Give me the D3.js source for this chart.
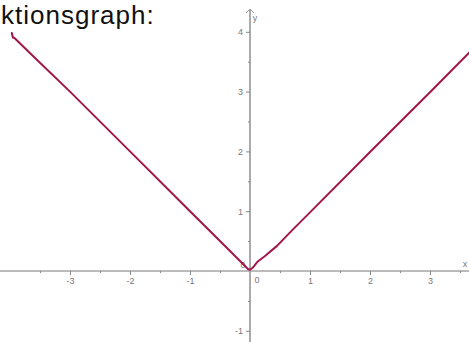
<!DOCTYPE html>
<html>
<head>
<meta charset="utf-8">
<script src="https://cdn.jsdelivr.net/npm/d3@7"></script>
<style>
  body { margin: 0; background: #fff; }
  svg { display: block; }
</style>
</head>
<body>
<svg width="469" height="342"></svg>
<script>
// points (x, y in axis units)
const curveX = [-3.97, -3.95, -3.93, -3.6, -3.0, -2.0, -1.0, -0.4, -0.1, -0.03, 0.0, 0.05, 0.12, 0.25, 0.45, 0.7, 1.0, 2.0, 3.0, 3.66];
const curveY = [3.98, 3.9, 3.9, 3.58, 3.0, 2.0, 1.0, 0.4, 0.1, 0.03, 0.02, 0.06, 0.15, 0.25, 0.42, 0.68, 0.98, 1.99, 2.99, 3.66];
const xTicks = [-3, -2, -1, 1, 2, 3];
const yTicks = [-1, 1, 2, 3, 4];
const xMinor = [-3.5, -2.5, -1.5, -0.5, 0.5, 1.5, 2.5, 3.5];
const yMinor = [-0.5, 0.5, 1.5, 2.5, 3.5];

const svg = d3.select("svg");
const W = 469, H = 342;

const x = d3.scaleLinear().domain([0, 1]).range([250, 310]);
const y = d3.scaleLinear().domain([0, 1]).range([271, 211.2]);

// title (only the visible part of it)
svg.append("text")
    .attr("x", 1)
    .attr("y", 24)
    .attr("font-family", "Liberation Sans, Arial, sans-serif")
    .attr("font-size", "26px")
    .attr("letter-spacing", "1px")
    .attr("fill", "#111")
    .text("ktionsgraph:");

// x axis line
svg.append("line")
    .attr("x1", 0).attr("x2", W)
    .attr("y1", y(0)).attr("y2", y(0))
    .attr("stroke", "#777").attr("stroke-width", 1);

// y axis line
svg.append("line")
    .attr("x1", x(0)).attr("x2", x(0))
    .attr("y1", 9).attr("y2", H)
    .attr("stroke", "#aaa").attr("stroke-width", 2);

// arrow on y axis
svg.append("path")
    .attr("d", "M" + (x(0) - 4) + ",13 L" + x(0) + ",9 L" + (x(0) + 4) + ",13")
    .attr("fill", "none").attr("stroke", "#999").attr("stroke-width", 1);

function styleAxis(g) {
    g.select(".domain").remove();
    g.selectAll("line").attr("stroke", "#888");
    g.selectAll("text")
        .attr("font-family", "Liberation Sans, Arial, sans-serif")
        .attr("font-size", "9px")
        .attr("fill", "#777");
}

svg.append("g")
    .attr("transform", "translate(0," + y(0) + ")")
    .call(d3.axisBottom(x).tickValues(xTicks).tickSize(4).tickPadding(3).tickFormat(d => String(d)))
    .call(styleAxis);

svg.append("g")
    .attr("transform", "translate(0," + y(0) + ")")
    .call(d3.axisBottom(x).tickValues(xMinor).tickSize(2).tickFormat(""))
    .call(styleAxis);

svg.append("g")
    .attr("transform", "translate(" + x(0) + ",0)")
    .call(d3.axisLeft(y).tickValues(yTicks).tickSize(4).tickPadding(3).tickFormat(d => String(d)))
    .call(styleAxis);

svg.append("g")
    .attr("transform", "translate(" + x(0) + ",0)")
    .call(d3.axisLeft(y).tickValues(yMinor).tickSize(2).tickFormat(""))
    .call(styleAxis);

// zero labels and axis names
const small = [
    { t: "0", px: x(0) + 7, py: y(0) + 12 },
    { t: "0", px: x(0) - 7, py: y(0) - 3 },
    { t: "x", px: W - 4, py: y(0) - 4 },
    { t: "y", px: x(0) + 5, py: 21 }
];
svg.selectAll(".lbl").data(small).enter().append("text")
    .attr("class", "lbl")
    .attr("x", d => d.px)
    .attr("y", d => d.py)
    .attr("text-anchor", "middle")
    .attr("font-family", "Liberation Sans, Arial, sans-serif")
    .attr("font-size", "9px")
    .attr("fill", "#777")
    .text(d => d.t);

// the graph
const pts = curveX.map((v, i) => [v, curveY[i]]);
const line = d3.line().x(d => x(d[0])).y(d => y(d[1]));
svg.append("path")
    .datum(pts)
    .attr("d", line)
    .attr("fill", "none")
    .attr("stroke", "#a0164a")
    .attr("stroke-width", 2)
    .attr("stroke-linejoin", "round")
    .attr("stroke-linecap", "round");
</script>
</body>
</html>
